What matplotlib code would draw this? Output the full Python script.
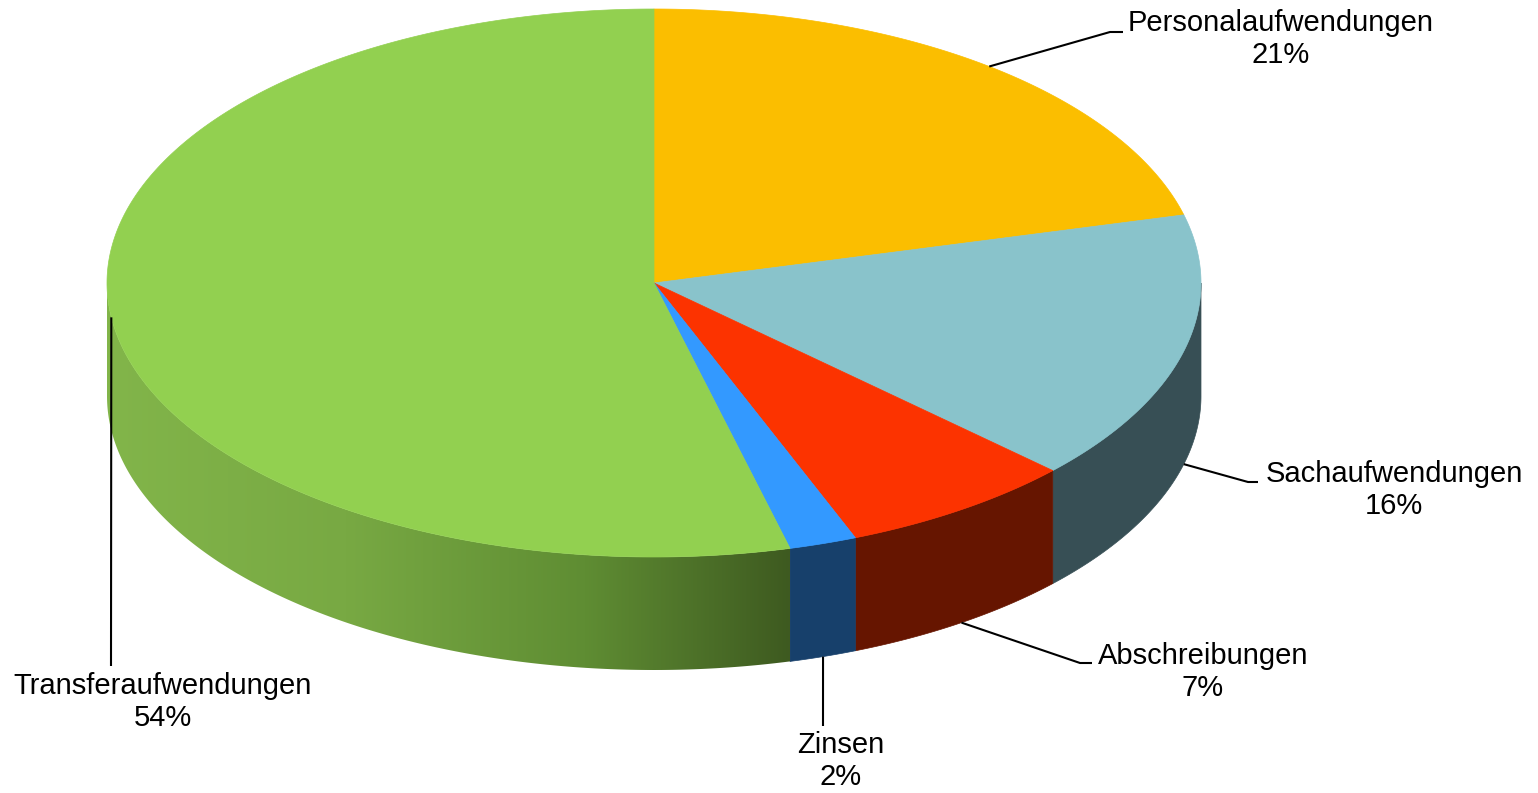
import numpy as np
import matplotlib.pyplot as plt
from matplotlib.patches import Polygon
from matplotlib.colors import LinearSegmentedColormap

plt.rcParams['font.family'] = ['Liberation Sans', 'DejaVu Sans']

# data
labels = ['Personalaufwendungen', 'Sachaufwendungen', 'Abschreibungen', 'Zinsen', 'Transferaufwendungen']
values = [21, 16, 7, 2, 54]

# style
top_colors = ['#FBBE00', '#89C3CB', '#FC3300', '#3399FF', '#92D050']
side_colors = ['#8A6800', '#374F55', '#661500', '#17406B', None]  # None -> gradient
# label layout (pixel coords): elbow point, end of line, text centre, anchor on bottom edge?
elbows = [(1110, 32), (1248, 482), (1080, 663), None, None]
line_ends = [(1123, 32), (1258, 482), (1092, 663), (823, 726), (111, 666)]
text_pos = [(1281, 39), (1394, 490), (1203, 672), (841, 761), (163, 702)]
on_bottom = [False, True, True, True, False]

W, H = 1538, 793
cx, cy, rx, ry, depth = 654, 283, 547, 274, 113

fig = plt.figure(figsize=(W / 100, H / 100), dpi=100)
ax = fig.add_axes([0, 0, 1, 1])


def pt(theta, dy=0.0):
    t = np.radians(theta)
    return cx + rx * np.cos(t), cy - ry * np.sin(t) + dy


cum = np.concatenate([[0], np.cumsum(values)]) / float(sum(values))
starts = 90 - 360 * cum[:-1]
ends = 90 - 360 * cum[1:]

# sides (front half only)
for i in range(len(values)):
    lo, hi = max(ends[i], -180), min(starts[i], 0)
    if lo >= hi:
        continue
    th = np.linspace(hi, lo, 200)
    xs, ys = pt(th)
    xb, yb = pt(th[::-1], depth)
    poly = np.column_stack([np.r_[xs, xb], np.r_[ys, yb]])
    if side_colors[i] is None:
        patch = Polygon(poly, closed=True, facecolor='none', edgecolor='none')
        ax.add_patch(patch)
        cmap = LinearSegmentedColormap.from_list(
            'g', [(0, '#82B54A'), (0.35, '#78A943'), (0.7, '#5F8D33'), (1, '#3E5A20')])
        x0, x1 = poly[:, 0].min(), poly[:, 0].max()
        im = ax.imshow(np.linspace(0, 1, 256)[None, :], cmap=cmap, aspect='auto',
                       extent=(x0, x1, poly[:, 1].max(), poly[:, 1].min()),
                       interpolation='bilinear', zorder=1)
        im.set_clip_path(patch)
    else:
        ax.add_patch(Polygon(poly, closed=True, facecolor=side_colors[i],
                             edgecolor=side_colors[i], lw=0.5, zorder=1))

# tops
for i in range(len(values)):
    th = np.linspace(starts[i], ends[i], 300)
    xs, ys = pt(th)
    poly = np.column_stack([np.r_[cx, xs], np.r_[cy, ys]])
    ax.add_patch(Polygon(poly, closed=True, facecolor=top_colors[i],
                         edgecolor=top_colors[i], lw=0.5, zorder=2))

# labels with leader lines
for i, lab in enumerate(labels):
    mid = (starts[i] + ends[i]) / 2
    ax0, ay0 = pt(mid, depth if on_bottom[i] else 0)
    pts = [(ax0, ay0)]
    if elbows[i] is not None:
        pts.append(elbows[i])
    pts.append(line_ends[i])
    px, py = zip(*pts)
    ax.plot(px, py, color='black', lw=1.5, zorder=3, solid_capstyle='butt')
    ax.text(text_pos[i][0], text_pos[i][1], '%s\n%d%%' % (lab, values[i]),
            ha='center', va='center', fontsize=21, linespacing=1.2, zorder=4)

ax.set_xlim(0, W)
ax.set_ylim(H, 0)
ax.axis('off')
fig.savefig('out.png', dpi=100)
